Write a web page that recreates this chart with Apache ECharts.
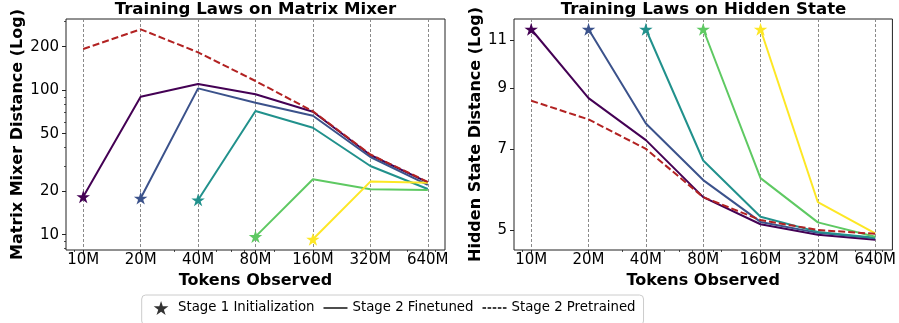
<!DOCTYPE html>
<html>
<head>
<meta charset="utf-8">
<script src="https://cdn.jsdelivr.net/npm/echarts@6/dist/echarts.min.js"></script>
<style>
html,body{margin:0;padding:0;background:#fff;}
#chart{width:899px;height:323px;}
</style>
</head>
<body>
<div id="chart"></div>
<script>
// ---------- data ----------
const tokensM = [10, 20, 40, 80, 160, 320, 640];
const xTickLabels = ['10M', '20M', '40M', '80M', '160M', '320M', '640M'];
const xMinorTicks = [9, 30, 50, 60, 70, 90, 100, 200, 300, 400, 500, 600, 700];
const mixerYTicks = [10, 20, 50, 100, 200];
const mixerYMinor = [8, 9, 30, 40, 60, 70, 80, 90, 300];
const hiddenYTicks = [5, 7, 9, 11];

const stageColors = ['#440154', '#3b528b', '#21918c', '#5ec962', '#fde725'];
const pretrainedColor = '#b22222';

// Matrix mixer distance, each run starts at its Stage-1 init token count
const mixerStart10M = [18.3, 90.2, 110.4, 93.7, 71.0, 35.6, 23.0];
const mixerStart20M = [17.9, 103, 81.9, 66.6, 34.5, 22.1];
const mixerStart40M = [17.4, 71.8, 55.0, 29.9, 20.7];
const mixerStart80M = [9.7, 24.2, 20.6, 20.4];
const mixerStart160M = [9.29, 23.3, 22.9];
const mixerPretrained = [192.8, 263.8, 182.9, 115.8, 71.5, 35.9, 23.2];

// Hidden state distance
const hiddenStart10M = [11.5, 8.64, 7.26, 5.73, 5.12, 4.90, 4.80];
const hiddenStart20M = [11.5, 7.78, 6.15, 5.17, 4.94, 4.83];
const hiddenStart40M = [11.5, 6.67, 5.28, 4.96, 4.84];
const hiddenStart80M = [11.5, 6.20, 5.16, 4.86];
const hiddenStart160M = [11.5, 5.61, 4.93];
const hiddenPretrained = [8.55, 7.91, 7.00, 5.73, 5.21, 5.00, 4.92];

const mixerRuns = [mixerStart10M, mixerStart20M, mixerStart40M, mixerStart80M, mixerStart160M];
const hiddenRuns = [hiddenStart10M, hiddenStart20M, hiddenStart40M, hiddenStart80M, hiddenStart160M];

// ---------- chart ----------
const FONT = 'DejaVu Sans';
const STAR = 'path://M0,-1 L0.2245,-0.309 L0.9511,-0.309 L0.3633,0.118 L0.5878,0.809 L0,0.382 L-0.5878,0.809 L-0.3633,0.118 L-0.9511,-0.309 L-0.2245,-0.309 Z';
const SOLID_ICON = 'path://M0,0 H24 V1.4 H0 Z';
const DASH_ICON = 'path://M0,0 H3.6 V1.4 H0 Z M5.1,0 H8.7 V1.4 H5.1 Z M10.2,0 H13.8 V1.4 H10.2 Z M15.3,0 H18.9 V1.4 H15.3 Z M20.4,0 H24 V1.4 H20.4 Z';
const AX = '#222';

const xMin = 10 / Math.pow(2, 0.3), xMax = 640 * Math.pow(2, 0.3);

function xMainAxis(grid) {
  return {
    type: 'log', logBase: 10, gridIndex: grid, position: 'bottom', min: xMin, max: xMax,
    axisLine: {show: false},
    axisTick: {show: true, inside: false, length: 4, customValues: tokensM, lineStyle: {color: AX, width: 1}},
    axisLabel: {customValues: tokensM, margin: 3, fontSize: 15, fontFamily: FONT, color: '#000',
      formatter: v => { let best = 0; tokensM.forEach((t, i) => { if (Math.abs(t - v) < Math.abs(tokensM[best] - v)) best = i; }); return xTickLabels[best]; }},
    splitLine: {show: true, lineStyle: {color: '#8a8a8a', type: [3, 2], width: 1}},
    name: 'Tokens Observed', nameLocation: 'middle', nameGap: 22,
    nameTextStyle: {fontFamily: FONT, fontSize: 16, fontWeight: 'bold', color: '#000'}
  };
}
function xMinorAxis(grid) {
  return {
    type: 'log', logBase: 10, gridIndex: grid, position: 'bottom', offset: 0, min: xMin, max: xMax,
    axisLine: {show: false},
    axisTick: {show: true, inside: false, length: 2, customValues: xMinorTicks, lineStyle: {color: AX, width: 0.8}},
    axisLabel: {show: false}, splitLine: {show: false}
  };
}

const mixerMin = 7.837, mixerMax = 311;
const hiddenMin = 4.601, hiddenMax = 12.0;

const yAxes = [
  {
    type: 'log', logBase: 10, gridIndex: 0, position: 'left', min: mixerMin, max: mixerMax,
    axisLine: {show: false},
    axisTick: {show: true, inside: false, length: 4, customValues: mixerYTicks, lineStyle: {color: AX, width: 1}},
    axisLabel: {customValues: mixerYTicks, margin: 7, fontSize: 15, fontFamily: FONT, color: '#000',
      formatter: v => String(Math.round(v))},
    splitLine: {show: false},
    name: 'Matrix Mixer Distance (Log)', nameLocation: 'middle', nameGap: 40, nameRotate: 90,
    nameTextStyle: {fontFamily: FONT, fontSize: 16, fontWeight: 'bold', color: '#000'}
  },
  {
    type: 'log', logBase: 10, gridIndex: 0, position: 'left', offset: 0, min: mixerMin, max: mixerMax,
    axisLine: {show: false},
    axisTick: {show: true, inside: false, length: 2, customValues: mixerYMinor, lineStyle: {color: AX, width: 0.8}},
    axisLabel: {show: false}, splitLine: {show: false}
  },
  {
    type: 'log', logBase: 10, gridIndex: 1, position: 'left', min: hiddenMin, max: hiddenMax,
    axisLine: {show: false},
    axisTick: {show: true, inside: false, length: 4, customValues: hiddenYTicks, lineStyle: {color: AX, width: 1}},
    axisLabel: {customValues: hiddenYTicks, margin: 7, fontSize: 15, fontFamily: FONT, color: '#000',
      formatter: v => String(Math.round(v))},
    splitLine: {show: false},
    name: 'Hidden State Distance (Log)', nameLocation: 'middle', nameGap: 29, nameRotate: 90,
    nameTextStyle: {fontFamily: FONT, fontSize: 16, fontWeight: 'bold', color: '#000'}
  }
];

const series = [];
function addPanel(runs, pretrained, xi, yi) {
  runs.forEach((vals, k) => {
    const data = vals.map((v, i) => [tokensM[k + i], v]);
    series.push({
      type: 'line', xAxisIndex: xi, yAxisIndex: yi, data: data, symbol: 'none',
      lineStyle: {color: stageColors[k], width: 2}, itemStyle: {color: stageColors[k]},
      z: 2, silent: true, animation: false
    });
  });
  series.push({
    type: 'line', xAxisIndex: xi, yAxisIndex: yi,
    data: pretrained.map((v, i) => [tokensM[i], v]), symbol: 'none',
    lineStyle: {color: pretrainedColor, width: 2, type: [7, 3]}, itemStyle: {color: pretrainedColor},
    z: 3, silent: true, animation: false
  });
  runs.forEach((vals, k) => {
    series.push({
      type: 'scatter', xAxisIndex: xi, yAxisIndex: yi, data: [[tokensM[k], vals[0]]],
      symbol: STAR, symbolSize: 13.5, symbolKeepAspect: true,
      itemStyle: {color: stageColors[k], opacity: 1}, z: 5, silent: true, animation: false
    });
  });
}
addPanel(mixerRuns, mixerPretrained, 0, 0);
addPanel(hiddenRuns, hiddenPretrained, 2, 2);

// legend proxies
series.push({name: 'Stage 1 Initialization', type: 'scatter', xAxisIndex: 0, yAxisIndex: 0, data: [],
  symbol: STAR, itemStyle: {color: '#000'}});
series.push({name: 'Stage 2 Finetuned', type: 'line', xAxisIndex: 0, yAxisIndex: 0, data: [], symbol: 'none',
  lineStyle: {color: '#000', width: 1.3}, itemStyle: {color: '#000'}});
series.push({name: 'Stage 2 Pretrained', type: 'line', xAxisIndex: 0, yAxisIndex: 0, data: [], symbol: 'none',
  lineStyle: {color: '#000', width: 1.3, type: [4, 2]}, itemStyle: {color: '#000'}});

const option = {
  animation: false,
  backgroundColor: '#fff',
  title: [
    {text: 'Training Laws on Matrix Mixer', left: 255.5, textAlign: 'center', top: 1, padding: 0,
      textStyle: {fontFamily: FONT, fontSize: 16.6, fontWeight: 'bold', color: '#000'}},
    {text: 'Training Laws on Hidden State', left: 703.5, textAlign: 'center', top: 1, padding: 0,
      textStyle: {fontFamily: FONT, fontSize: 16.6, fontWeight: 'bold', color: '#000'}}
  ],
  grid: [
    {left: 66, top: 19, width: 379, height: 231, show: true, borderColor: AX, borderWidth: 1, backgroundColor: 'transparent', containLabel: false},
    {left: 514, top: 19, width: 379, height: 231, show: true, borderColor: AX, borderWidth: 1, backgroundColor: 'transparent', containLabel: false}
  ],
  xAxis: [xMainAxis(0), xMinorAxis(0), xMainAxis(1), xMinorAxis(1)],
  yAxis: yAxes,
  legend: {
    left: 141.7, top: 295, padding: [6, 8, 10, 12], itemGap: 9, itemWidth: 24, itemHeight: 14,
    borderColor: '#cccccc', borderWidth: 1, borderRadius: 4, backgroundColor: '#fff',
    textStyle: {fontFamily: FONT, fontSize: 13.3, color: '#000'},
    selectedMode: false,
    data: [
      {name: 'Stage 1 Initialization', icon: STAR, itemStyle: {color: '#000'}},
      {name: 'Stage 2 Finetuned', icon: SOLID_ICON, itemStyle: {color: '#000'}},
      {name: 'Stage 2 Pretrained', icon: DASH_ICON, itemStyle: {color: '#000'}}
    ]
  },
  series: series
};

const chart = echarts.init(document.getElementById('chart'), null, {renderer: 'canvas'});
chart.setOption(option);
</script>
</body>
</html>
